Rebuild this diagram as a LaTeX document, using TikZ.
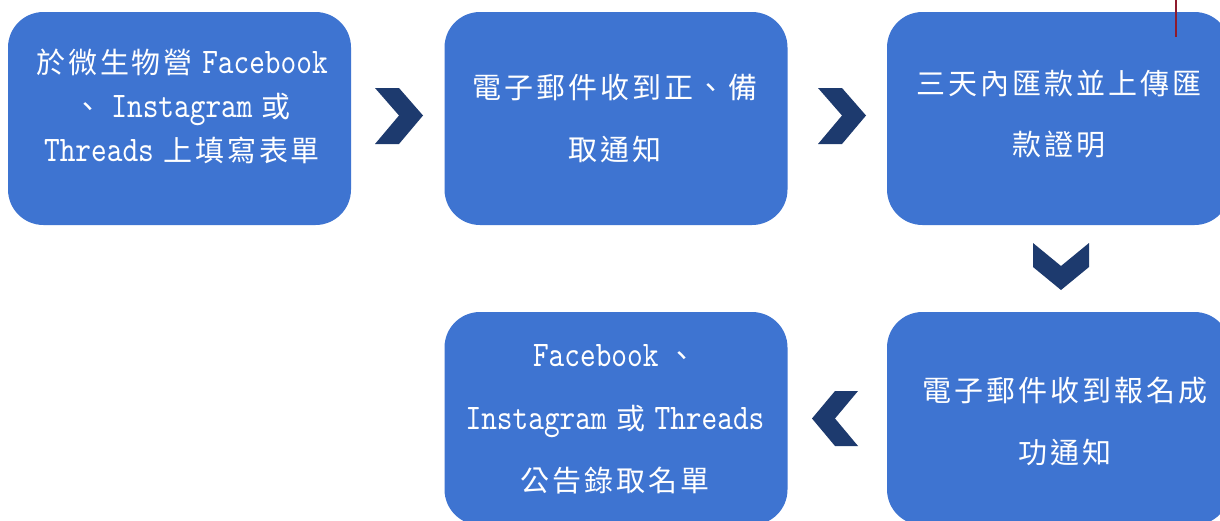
\documentclass[tikz,border=0pt]{standalone}
\usepackage{fontspec}
\newfontfamily\cjk{Noto Sans CJK TC}[LetterSpace=10]
\newfontfamily\lat{lmmono10-regular.otf}[FakeStretch=0.83]
\newcommand\en[1]{{\fontsize{36}{36}\selectfont\lat #1}}
\definecolor{boxblue}{HTML}{3E74D1}
\definecolor{chevblue}{HTML}{1D3A6E}
\definecolor{redline}{HTML}{8E1B2E}
\begin{document}
\begin{tikzpicture}[x=1pt,y=-1pt,
  box/.style={fill=boxblue, rounded corners=35.5pt, minimum width=343pt, minimum height=213pt, inner sep=0pt},
  txt/.style={text=white, align=center, inner sep=0pt},
  chev/.style={fill=chevblue}]
\useasboundingbox (0,0) rectangle (1220,520);
\clip (0,0) rectangle (1220,520);
\fill[white] (0,0) rectangle (1220,520);
% boxes
\node[box] (b1) at (179.5,118.5) {};
\node[box] (b2) at (616,118.5) {};
\node[box] (b3) at (1058.5,118.5) {};
\node[box] (b4) at (1058.5,418.5) {};
\node[box] (b5) at (616,418.5) {};
% texts
\node[txt, font=\fontsize{29}{44}\selectfont\cjk] (t1) at (182,106)
  {於微生物營 \en{Facebook}\\、 \en{Instagram} 或\\\en{Threads} 上填寫表單};
\node[txt, font=\fontsize{29}{62}\selectfont\cjk] (t2) at (615,119)
  {電子郵件收到正、備\\取通知};
\node[txt, font=\fontsize{29}{61}\selectfont\cjk] (t3) at (1059,114.5)
  {三天內匯款並上傳匯\\款證明};
\node[txt, font=\fontsize{29}{62}\selectfont\cjk] (t4) at (1065,421)
  {電子郵件收到報名成\\功通知};
\node[txt, font=\fontsize{29}{62.5}\selectfont\cjk] (t5) at (615,419.5)
  {\en{Facebook} 、\\\en{Instagram} 或 \en{Threads}\\公告錄取名單};
% chevrons
\fill[chev] (375,88) -- (399,88) -- (423,115.5) -- (399,144) -- (375,144) -- (399,115.5) -- cycle;
\fill[chev] (818,88) -- (842,88) -- (866,115.5) -- (842,144) -- (818,144) -- (842,115.5) -- cycle;
\fill[chev] (1033,243) -- (1061,266) -- (1089,243) -- (1089,267) -- (1061,290) -- (1033,267) -- cycle;
\fill[chev] (858,391) -- (835,391) -- (812,418.5) -- (835,446) -- (858,446) -- (835,418.5) -- cycle;
% red line
\coordinate (r1) at (1176,0);
\coordinate (r2) at (1176,37);
\draw[redline, line width=1.5pt] (r1) -- (r2);
\end{tikzpicture}
\end{document}
